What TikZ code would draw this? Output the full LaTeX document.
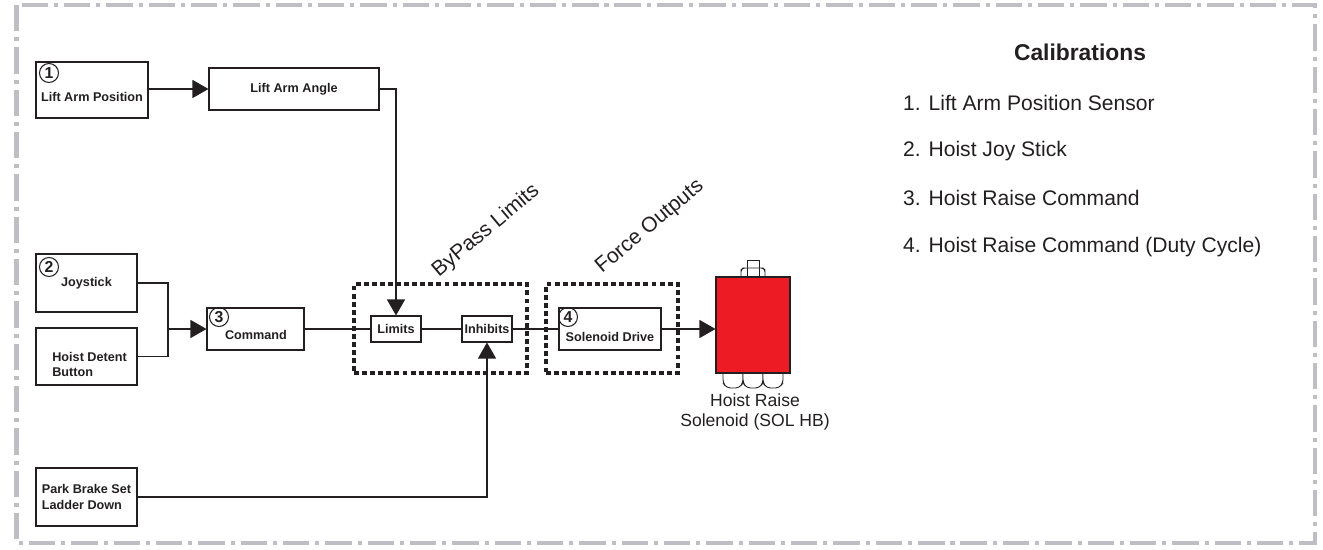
\documentclass[tikz,border=0pt]{standalone}
\usepackage{fontspec}
\setmainfont{Liberation Sans}
\usetikzlibrary{arrows.meta,positioning}
\definecolor{framegray}{RGB}{190,190,196}
\definecolor{solred}{RGB}{237,28,36}
\definecolor{inkgray}{RGB}{35,31,32}

\tikzset{
  box/.style={draw=inkgray, line width=0.6pt, inner sep=0pt, align=center,
    font=\fontsize{7.2}{8.6}\selectfont\bfseries},
  groupbox/.style={draw=inkgray, line width=1.8pt, dash pattern=on 2.8pt off 1.8pt, inner sep=0pt},
  numcirc/.style={draw=inkgray, circle, line width=0.6pt, inner sep=0pt, minimum size=0.38cm,
    font=\fontsize{9}{9}\selectfont\bfseries},
  boxtext/.style={inner sep=0pt, align=left, font=\fontsize{7.2}{8.6}\selectfont\bfseries},
  wire/.style={draw=inkgray, line width=0.6pt},
  feed/.style={wire, -{Triangle[length=3.2mm,width=3.6mm]}},
  nut/.style={draw=inkgray, line width=0.5pt, fill=white},
}

\begin{document}
\begin{tikzpicture}[x=0.02cm, y=-0.02cm, text=inkgray]
    \useasboundingbox (0,0) rectangle (1323,550);
    \draw[framegray, line width=2.3pt, dash pattern=on 15pt off 3.4pt on 2.3pt off 3.4pt]
        (16.5,5) rectangle (1315,543);

    % Inputs
    \node[box, minimum width=2.24cm, minimum height=1.12cm] (lap) at (92,90) {};
    \node[numcirc] at (49,73) {1};
    \node[boxtext] at (92,97) {Lift Arm Position};

    \node[box, minimum width=3.4cm, minimum height=0.84cm] (laa) at (294,89) {Lift Arm Angle};

    \node[box, minimum width=2.02cm, minimum height=1.16cm] (joy) at (86.5,283) {Joystick};
    \node[numcirc] at (49,267) {2};

    \node[box, minimum width=2.02cm, minimum height=1.14cm] (det) at (86.5,356.5) {};
    \node[boxtext, anchor=west] at (52,364.5) {Hoist Detent\\Button};

    \node[box, align=left, minimum width=2.02cm, minimum height=1.16cm] (park) at (86.5,497) {Park Brake Set\\Ladder Down};

    % Command and limits
    \node[box, minimum width=1.94cm, minimum height=0.84cm] (cmd) at (255.5,329) {};
    \node[numcirc] at (219,317) {3};
    \node[boxtext] at (256,335) {Command};

    \node[groupbox, minimum width=3.46cm, minimum height=1.78cm] (bypass) at (440.5,328.5) {};
    \node[rotate=40, font=\fontsize{12}{14}\selectfont] at (486,231) {ByPass Limits};
    \node[box, minimum width=1.0cm, minimum height=0.52cm] (lim) at (396,329) {Limits};
    \node[box, minimum width=1.0cm, minimum height=0.52cm] (inh) at (487,329) {Inhibits};

    % Outputs
    \node[groupbox, minimum width=2.64cm, minimum height=1.78cm] (force) at (612,328.5) {};
    \node[rotate=40, font=\fontsize{12}{14}\selectfont] at (650,227) {Force Outputs};
    \node[box, minimum width=2.04cm, minimum height=0.84cm] (sd) at (610,329) {};
    \node[numcirc] at (568,317) {4};
    \node[boxtext] at (610,337) {Solenoid Drive};

    % Solenoid
    \draw[nut] (747,260) rectangle (759,268);
    \draw[nut, rounded corners=1pt] (741,277) -- (741,270) -- (743,268) -- (763,268) -- (765,270) -- (765,277);
    \draw[inkgray, line width=0.5pt] (747,268) -- (747,277) (759,268) -- (759,277);
    \foreach \nx in {723,743,763}
        \draw[nut, rounded corners=2pt] (\nx,373) -- (\nx,383) -- (\nx+4,388) -- (\nx+16,388) -- (\nx+20,383) -- (\nx+20,373);
    \node[draw=inkgray, fill=solred, line width=0.6pt, minimum width=1.48cm, minimum height=1.92cm] (sol) at (753,325) {};
    \node[align=center, font=\fontsize{10}{11.3}\selectfont] at (755,412) {Hoist Raise\\Solenoid (SOL HB)};

    % Connectors
    \coordinate (jn) at (168,329);
    \draw[feed] (laa.west -| lap.east) -- (laa.west);
    \draw[feed] (laa.east) -| (lim.north);
    \draw[wire] (joy.east) -| (jn) |- (det.east);
    \draw[feed] (jn) -- (cmd.west);
    \draw[wire] (cmd.east) -- (lim.west);
    \draw[wire] (lim.east) -- (inh.west);
    \draw[wire] (inh.east) -- (sd.west);
    \draw[feed] (sd.east) -- (sd.east -| sol.west);
    \draw[feed] (park.east) -| (inh.south);

    % Calibrations
    \node[font=\fontsize{13}{15}\selectfont\bfseries] at (1080,52) {Calibrations};
    \node[anchor=west, font=\fontsize{12}{14}\selectfont] at (897,103) {1. Lift Arm Position Sensor};
    \node[anchor=west, font=\fontsize{12}{14}\selectfont] at (897,151) {2. Hoist Joy Stick};
    \node[anchor=west, font=\fontsize{12}{14}\selectfont] at (897,198) {3. Hoist Raise Command};
    \node[anchor=west, font=\fontsize{12}{14}\selectfont] at (897,247) {4. Hoist Raise Command (Duty Cycle)};
\end{tikzpicture}
\end{document}
